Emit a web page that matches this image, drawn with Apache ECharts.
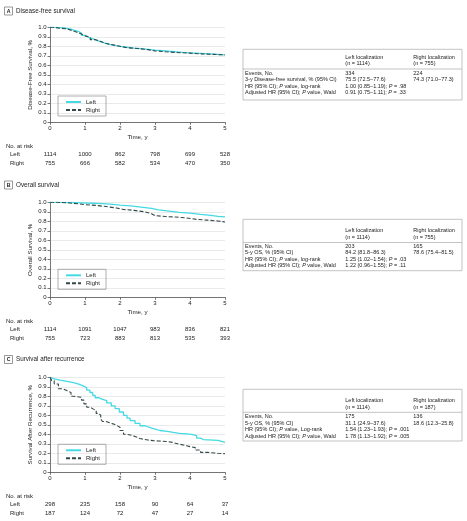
<!DOCTYPE html>
<html><head><meta charset="utf-8">
<script src="https://cdn.jsdelivr.net/npm/echarts@6/dist/echarts.min.js"></script>
<style>html,body{margin:0;padding:0;background:#fff}#c{width:467px;height:521px}</style>
</head><body><div id="c"></div>
<script>
// ---------- DATA ----------
const timeTicks = [0, 1, 2, 3, 4, 5];
const yTicks = [0, 0.1, 0.2, 0.3, 0.4, 0.5, 0.6, 0.7, 0.8, 0.9, 1.0];
const seriesNames = ['Left', 'Right'];

const dfsLeft = [[0,1],[0.15,0.997],[0.3,0.99],[0.45,0.98],[0.6,0.968],[0.7,0.958],[0.8,0.94],[0.9,0.915],[1.0,0.895],[1.1,0.875],[1.25,0.855],[1.4,0.835],[1.55,0.82],[1.7,0.81],[1.85,0.8],[2.0,0.79],[2.2,0.78],[2.4,0.775],[2.6,0.768],[2.8,0.76],[3.0,0.755],[3.2,0.748],[3.4,0.742],[3.6,0.735],[3.8,0.73],[4.0,0.725],[4.3,0.72],[4.6,0.715],[4.8,0.71],[5.0,0.705]];
const dfsRight = [[0,1],[0.1,0.99],[0.3,0.985],[0.45,0.97],[0.6,0.95],[0.75,0.93],[0.9,0.91],[1.0,0.895],[1.15,0.87],[1.3,0.85],[1.45,0.83],[1.6,0.815],[1.8,0.8],[2.0,0.785],[2.2,0.777],[2.5,0.765],[2.8,0.752],[3.0,0.743],[3.3,0.735],[3.6,0.728],[4.0,0.72],[4.3,0.716],[4.6,0.71],[5.0,0.706]];
const osLeft = [[0,1],[0.3,0.998],[0.6,0.995],[0.9,0.99],[1.2,0.985],[1.5,0.978],[1.8,0.97],[2.0,0.962],[2.3,0.95],[2.6,0.937],[2.9,0.92],[3.1,0.908],[3.4,0.895],[3.7,0.885],[4.0,0.872],[4.3,0.862],[4.6,0.852],[4.8,0.847],[5.0,0.842]];
const osRight = [[0,1],[0.2,0.995],[0.5,0.985],[0.8,0.975],[1.0,0.968],[1.3,0.955],[1.6,0.94],[1.9,0.925],[2.1,0.915],[2.4,0.9],[2.7,0.88],[2.9,0.86],[3.0,0.85],[3.3,0.845],[3.6,0.835],[3.9,0.82],[4.2,0.812],[4.5,0.803],[4.8,0.793],[5.0,0.786]];
const sarLeft = [[0,1],[0.05,0.98],[0.15,0.97],[0.29,0.96],[0.45,0.945],[0.67,0.93],[0.8,0.91],[0.95,0.89],[1.05,0.865],[1.14,0.84],[1.22,0.81],[1.29,0.785],[1.4,0.77],[1.48,0.755],[1.62,0.73],[1.75,0.70],[1.86,0.67],[1.98,0.635],[2.1,0.60],[2.2,0.57],[2.29,0.545],[2.43,0.515],[2.57,0.49],[2.72,0.47],[2.86,0.455],[3.0,0.44],[3.14,0.43],[3.35,0.42],[3.52,0.41],[3.7,0.405],[3.9,0.40],[4.05,0.385],[4.19,0.36],[4.3,0.345],[4.38,0.335],[4.8,0.325],[4.9,0.315],[5.0,0.31]];
const sarRight = [[0,1],[0.05,0.965],[0.12,0.93],[0.24,0.88],[0.35,0.86],[0.48,0.84],[0.6,0.80],[0.67,0.79],[0.9,0.76],[0.97,0.72],[1.05,0.685],[1.15,0.665],[1.24,0.65],[1.32,0.62],[1.38,0.60],[1.45,0.56],[1.5,0.535],[1.6,0.52],[1.71,0.51],[1.8,0.495],[1.9,0.475],[2.0,0.44],[2.1,0.40],[2.2,0.39],[2.33,0.375],[2.45,0.355],[2.57,0.34],[2.8,0.333],[2.95,0.33],[3.1,0.325],[3.33,0.315],[3.5,0.295],[3.71,0.28],[3.9,0.27],[4.0,0.26],[4.15,0.235],[4.3,0.21],[4.5,0.2],[4.8,0.195],[5.0,0.19]];

const riskA_Left = [1114, 1000, 862, 798, 699, 528];
const riskA_Right = [755, 666, 582, 534, 470, 350];
const riskB_Left = [1114, 1091, 1047, 983, 836, 821];
const riskB_Right = [755, 723, 883, 813, 535, 393];
const riskC_Left = [298, 235, 158, 90, 64, 37];
const riskC_Right = [187, 124, 72, 47, 27, 14];

const panelLetters = ['A', 'B', 'C'];
const panelTitles = ['Disease-free survival', 'Overall survival', 'Survival after recurrence'];
const yAxisNames = ['Disease-Free Survival, %', 'Overall Survival, %', 'Survival After Recurrence, %'];

const tableHeadA = [['Left localization', '(n = 1114)'], ['Right localization', '(n = 755)']];
const tableRowsA = [
  ['Events, No.', '334', '224'],
  ['3-y Disease-free survival, % (95% CI)', '75.5 (72.5–77.6)', '74.3 (71.0–77.3)'],
  ['HR (95% CI); P value, log-rank', '1.00 (0.85–1.19); P = .98', ''],
  ['Adjusted HR (95% CI); P value, Wald', '0.91 (0.75–1.11); P = .33', '']
];
const tableHeadB = [['Left localization', '(n = 1114)'], ['Right localization', '(n = 755)']];
const tableRowsB = [
  ['Events, No.', '203', '165'],
  ['5-y OS, % (95% CI)', '84.2 (81.8–86.3)', '78.6 (75.4–81.5)'],
  ['HR (95% CI); P value, log-rank', '1.25 (1.02–1.54); P = .03', ''],
  ['Adjusted HR (95% CI); P value, Wald', '1.22 (0.96–1.55); P = .11', '']
];
const tableHeadC = [['Left localization', '(n = 1114)'], ['Right localization', '(n = 187)']];
const tableRowsC = [
  ['Events, No.', '175', '136'],
  ['5-y OS, % (95% CI)', '31.1 (24.9–37.6)', '18.6 (12.3–25.8)'],
  ['HR (95% CI); P value, Log-rank', '1.54 (1.23–1.93); P = .001', ''],
  ['Adjusted HR (95% CI); P value, Wald', '1.78 (1.13–1.92); P = .005', '']
];

// ---------- LAYOUT / STYLE ----------
const FONT = 'Liberation Sans';
const TXT = '#222';
const AXC = '#555';
const LEFT_COLOR = '#45d9e3';
const RIGHT_COLOR = '#344848';
const gridTops = [27.3, 202.3, 377.3];
const GRID_H = 95;
const titleYs = [11, 185, 359.5];
const legendTops = [96, 269.3, 444.3];
const tblTop = [49.3, 219.3, 389.3];
const tblBot = [100, 270.7, 441];
const tblHdr = [[57.3, 63.6], [230.7, 237.3], [400.7, 407.3]];
const tblSep = [69, 242.5, 412.3];
const tblRow0 = [73, 246.2, 416.7];
const ROW_STEP = 6.5;
const colX = [245, 345.3, 413.3];

const curves = [[dfsLeft, dfsRight], [osLeft, osRight], [sarLeft, sarRight]];
const risks = [[riskA_Left, riskA_Right], [riskB_Left, riskB_Right], [riskC_Left, riskC_Right]];
const tHeads = [tableHeadA, tableHeadB, tableHeadC];
const tRows = [tableRowsA, tableRowsB, tableRowsC];

const grids = [], xAxes = [], yAxes = [], series = [], legends = [], graphics = [];

function txtEl(x, y, s, opt) {
  opt = opt || {};
  const rich = { i: { fontStyle: 'italic', fontSize: opt.fs || 5.5, fontFamily: FONT, fill: TXT } };
  return {
    type: 'text', x: x, y: y, silent: true,
    style: {
      text: s.replace(/\bP\b/g, '{i|P}'), rich: rich,
      fontSize: opt.fs || 5.5, fontFamily: FONT, fill: TXT,
      fontWeight: opt.bold ? 'bold' : 'normal',
      align: opt.align || 'left', verticalAlign: 'middle',
      textAlign: opt.align || 'left', textVerticalAlign: 'middle'
    }
  };
}

for (let i = 0; i < 3; i++) {
  const top = gridTops[i];
  const bottom = top + GRID_H;
  grids.push({ left: 50, width: 175, top: top, height: GRID_H });
  xAxes.push({
    gridIndex: i, type: 'value', min: 0, max: 5, interval: 1,
    name: 'Time, y', nameLocation: 'middle', nameGap: 12,
    nameTextStyle: { fontSize: 6.2, color: TXT, fontFamily: FONT },
    axisLine: { lineStyle: { color: AXC, width: 0.8 } },
    axisTick: { length: 2.5, lineStyle: { color: AXC, width: 0.8 } },
    axisLabel: { fontSize: 6, color: TXT, margin: 3.5, fontFamily: FONT },
    splitLine: { show: false }
  });
  [0, 1].forEach(k => {
    const arr = risks[i][k];
    xAxes.push({
      gridIndex: i, type: 'value', min: 0, max: 5, interval: 1, position: 'bottom',
      offset: k === 0 ? 32.5 : 40.7,
      axisLine: { show: false }, axisTick: { show: false }, splitLine: { show: false },
      axisLabel: { fontSize: 6, color: TXT, margin: 0, verticalAlign: 'middle', fontFamily: FONT,
        formatter: v => String(arr[timeTicks.indexOf(Math.round(v))]) }
    });
  });
  yAxes.push({
    gridIndex: i, type: 'value', min: 0, max: 1, interval: 0.1,
    name: yAxisNames[i], nameLocation: 'middle', nameGap: 17, nameRotate: 90,
    nameTextStyle: { fontSize: 6.2, color: TXT, fontFamily: FONT },
    axisLine: { show: true, lineStyle: { color: AXC, width: 0.8 } },
    axisTick: { show: true, length: 2.5, lineStyle: { color: AXC, width: 0.8 } },
    axisLabel: { fontSize: 6, color: TXT, margin: 3.5, fontFamily: FONT,
      formatter: v => (Math.abs(v) < 1e-9 ? '0' : v.toFixed(1)) },
    splitLine: { show: true, lineStyle: { color: '#dcdcdc', width: 0.6 } }
  });
  [0, 1].forEach(k => {
    series.push({
      type: 'line', name: seriesNames[k], xAxisIndex: i * 3, yAxisIndex: i,
      data: curves[i][k], step: 'end', symbol: 'none', silent: true,
      z: k === 0 ? 2 : 3,
      lineStyle: k === 0 ? { color: LEFT_COLOR, width: 1.3, type: 'solid' }
                         : { color: RIGHT_COLOR, width: 1.1, type: [4, 2] },
      itemStyle: { color: k === 0 ? LEFT_COLOR : RIGHT_COLOR }
    });
  });
  legends.push({
    data: seriesNames, left: 58, top: legendTops[i], orient: 'vertical',
    itemWidth: 15, itemHeight: 6, itemGap: 2, padding: [3, 6, 3, 7],
    borderColor: '#999', borderWidth: 0.8, selectedMode: false,
    itemStyle: { opacity: 0, borderWidth: 0 },
    textStyle: { fontSize: 6, color: TXT, fontFamily: FONT, lineHeight: 6 }
  });

  // panel label + title
  const ty = titleYs[i];
  graphics.push({ type: 'rect', silent: true, shape: { x: 4.5, y: ty - 4, width: 8, height: 8 },
    style: { fill: 'none', stroke: '#555', lineWidth: 0.6 } });
  graphics.push(txtEl(8.5, ty + 0.2, panelLetters[i], { fs: 5.2, bold: true, align: 'center' }));
  graphics.push(txtEl(16, ty, panelTitles[i], { fs: 6.3 }));
  // no. at risk labels
  graphics.push(txtEl(6, bottom + 24.3, 'No. at risk', { fs: 6 }));
  graphics.push(txtEl(10, bottom + 32.5, 'Left', { fs: 6 }));
  graphics.push(txtEl(10, bottom + 40.7, 'Right', { fs: 6 }));

  // table
  graphics.push({ type: 'rect', silent: true, shape: { x: 243, y: tblTop[i], width: 219, height: tblBot[i] - tblTop[i] },
    style: { fill: 'none', stroke: '#aaa', lineWidth: 0.7 } });
  graphics.push({ type: 'line', silent: true, shape: { x1: 243, y1: tblSep[i], x2: 462, y2: tblSep[i] },
    style: { stroke: '#aaa', lineWidth: 0.7 } });
  tHeads[i].forEach((h, c) => {
    graphics.push(txtEl(colX[c + 1], tblHdr[i][0], h[0]));
    graphics.push(txtEl(colX[c + 1], tblHdr[i][1], h[1]));
  });
  tRows[i].forEach((r, ri) => {
    r.forEach((cell, c) => {
      if (cell) graphics.push(txtEl(colX[c], tblRow0[i] + ri * ROW_STEP, cell));
    });
  });
}

const chart = echarts.init(document.getElementById('c'), null, { renderer: 'canvas' });
chart.setOption({
  animation: false,
  backgroundColor: '#fff',
  textStyle: { fontFamily: FONT },
  grid: grids, xAxis: xAxes, yAxis: yAxes, series: series, legend: legends,
  graphic: { elements: graphics }
});
</script>
</body></html>
